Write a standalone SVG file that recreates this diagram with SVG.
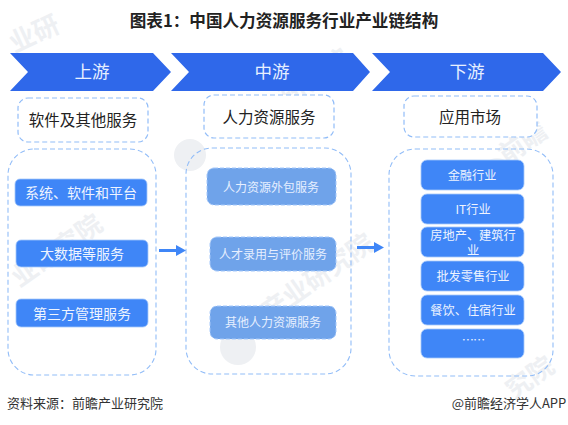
<svg xmlns="http://www.w3.org/2000/svg" width="568" height="425" viewBox="0 0 568 425">
<style>
text{font-family:"Noto Sans CJK SC","Liberation Sans",sans-serif;text-anchor:middle}
.wm{fill:#eef0f3;font-size:26px;font-weight:700}
.chev{fill:#2f68ea}
.ct{fill:#e8f0ff;font-size:17.5px}
.hb{fill:#fff;stroke:#92bdf8;stroke-width:1.2;stroke-dasharray:5 3}
.big{fill:none;stroke:#92bdf8;stroke-width:1.1;stroke-dasharray:5 3}
.ht{fill:#222;font-size:15.5px}
.pill{fill:#3f86f7;stroke:#a5c8fa;stroke-width:.8}
.mid{fill:#6fa3ea;stroke:#a5c8fa;stroke-width:1;stroke-dasharray:4 2}
.pt{fill:#eef4ff;font-size:14px}
.mt{fill:#e6efff;font-size:12px}
.rt{fill:#eef4ff;font-size:12.2px}
.conn{stroke:#3f86f7;stroke-width:3;fill:none}
.head{fill:#3f86f7}
.src{fill:#333;font-size:13px}
</style>
<rect width="568" height="425" fill="#fff"/>
<g id="watermark">
<text class="wm" transform="translate(38,42) rotate(-25)">业研</text>
<text class="wm" transform="translate(62,258) rotate(-35)">业研究院</text>
<text class="wm" transform="translate(320,85) rotate(-35)">研究院</text>
<text class="wm" transform="translate(312,292) rotate(-35)">瞻产业研究院</text>
<text class="wm" transform="translate(528,150) rotate(-35)">前瞻</text>
<text class="wm" transform="translate(535,385) rotate(-35)">究院</text>
<circle cx="190" cy="155" r="16" fill="#eef0f3"/>
<circle cx="238" cy="347" r="18" fill="#eef0f3"/>
<circle cx="497" cy="172" r="14" fill="#f2f4f6"/>
</g>
<text x="284" y="27" font-size="16.600" font-weight="700" fill="#222">图表1：中国人力资源服务行业产业链结构</text>
<g id="stage-upstream"><polygon class="chev" points="10,53 153,53 171,72 153,91 10,91 28,72"/><text class="ct" x="92" y="78">上游</text></g>
<g id="stage-midstream"><polygon class="chev" points="171,53 353,53 370,72 353,91 171,91 189,72"/><text class="ct" x="272" y="78">中游</text></g>
<g id="stage-downstream"><polygon class="chev" points="372,53 543,53 561,72 543,91 372,91 390,72"/><text class="ct" x="467" y="78">下游</text></g>
<g id="head-software"><rect class="hb" x="18" y="98" width="130" height="44" rx="10"/><text class="ht" x="83" y="126">软件及其他服务</text></g>
<g id="head-hr"><rect class="hb" x="204" y="95" width="130" height="43" rx="10"/><text class="ht" x="269" y="123">人力资源服务</text></g>
<g id="head-market"><rect class="hb" x="404" y="96" width="133" height="41" rx="10"/><text class="ht" x="470" y="123">应用市场</text></g>
<g id="panel-upstream"><rect class="big" x="8" y="149" width="148" height="226" rx="26"/></g>
<g id="panel-midstream"><rect class="big" x="186" y="148" width="165" height="226" rx="26"/></g>
<g id="panel-downstream"><rect class="big" x="389" y="149" width="164" height="227" rx="26"/></g>
<g id="n1"><rect class="pill" x="15" y="179" width="132" height="27" rx="5"/><text class="pt" x="81" y="198">系统、软件和平台</text></g>
<g id="n2"><rect class="pill" x="16" y="240" width="132" height="27" rx="5"/><text class="pt" x="82" y="259">大数据等服务</text></g>
<g id="n3"><rect class="pill" x="16" y="299" width="132" height="28" rx="5"/><text class="pt" x="82" y="319">第三方管理服务</text></g>
<g id="m1"><rect class="mid" x="207" y="168" width="129" height="37" rx="7"/><text class="mt" x="271" y="192">人力资源外包服务</text></g>
<g id="m2"><rect class="mid" x="210" y="237" width="126" height="34" rx="7"/><text class="mt" x="273" y="259">人才录用与评价服务</text></g>
<g id="m3"><rect class="mid" x="210" y="306" width="126" height="33" rx="7"/><text class="mt" x="273" y="327">其他人力资源服务</text></g>
<g id="r1"><rect class="pill" x="421" y="160" width="103" height="30" rx="6"/><text class="rt" x="472" y="180">金融行业</text></g>
<g id="r2"><rect class="pill" x="421" y="194" width="103" height="30" rx="6"/><text class="rt" x="473" y="214">IT行业</text></g>
<g id="r3"><rect class="pill" x="421" y="227" width="103" height="30" rx="6"/><text class="rt"><tspan x="473" y="240">房地产、建筑行</tspan><tspan x="473" y="255">业</tspan></text></g>
<g id="r4"><rect class="pill" x="421" y="261" width="103" height="30" rx="6"/><text class="rt" x="473" y="281">批发零售行业</text></g>
<g id="r5"><rect class="pill" x="421" y="295" width="103" height="30" rx="6"/><text class="rt" x="473" y="315">餐饮、住宿行业</text></g>
<g id="r6"><rect class="pill" x="421" y="329" width="103" height="29" rx="6"/><text class="rt" x="473" y="345" letter-spacing="-1">……</text></g>
<g id="connectors">
<path class="conn" d="M159 250.500H177"/><polygon class="head" points="176,245 186,250.500 176,256"/>
<path class="conn" d="M357 247.500H375"/><polygon class="head" points="374,242 384,247.500 374,253"/>
</g>
<g id="footer">
<text class="src" x="85" y="408">资料来源：前瞻产业研究院</text>
<text class="src" x="509" y="408">@前瞻经济学人APP</text>
</g>
</svg>
